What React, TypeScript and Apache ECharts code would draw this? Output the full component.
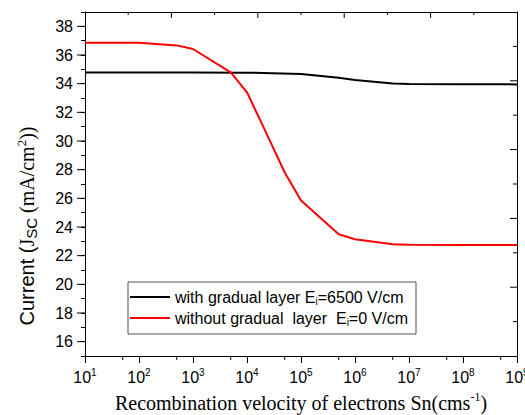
import React, { useEffect, useRef } from "react";
import * as echarts from "echarts";

// Short-circuit current vs. electron recombination velocity
const withGradualSn = [1e1, 1e2, 1e3, 1e4, 1e5, 5e5, 1e6, 5e6, 1e7, 1e8, 1e9];
const withGradualJsc = [34.78, 34.78, 34.78, 34.77, 34.68, 34.42, 34.25, 34.02, 33.98, 33.96, 33.95];

const withoutGradualSn = [1e1, 1e2, 5e2, 1e3, 5e3, 1e4, 2e4, 5e4, 1e5, 5e5, 1e6, 5e6, 1e7, 1e8, 1e9];
const withoutGradualJsc = [36.86, 36.85, 36.67, 36.42, 34.79, 33.4, 31.0, 27.8, 25.85, 23.49, 23.14, 22.8, 22.76, 22.74, 22.74];

const seriesNames = ["with gradual layer", "without gradual layer"];
const legendLabels = [
  "{t|with gradual layer E}{s|i}{t|=6500 V/cm}",
  "{t|without gradual  layer  E}{s|i}{t|=0 V/cm}",
];

// tick helpers: major y ticks (even values) and half-decade x ticks
const yMajorTicks = [16, 18, 20, 22, 24, 26, 28, 30, 32, 34, 36, 38];
const xMinorTicks = [5e1, 5e2, 5e3, 5e4, 5e5, 5e6, 5e7, 5e8];
// ticks of the mirrored top / right frame (0–10 scale, even ones are major)
const frameTicks = [1, 2, 3, 4, 5, 6, 7, 8, 9];

const Y_MIN = 15;
const Y_MAX = 39;
const X_MIN = 1e1;
const X_MAX = 1e9;
const FRAME_MAX = 10;

export default function App() {
  const ref = useRef<HTMLDivElement>(null);

  useEffect(() => {
    if (!ref.current) return;
    const chart = echarts.init(ref.current, undefined, { renderer: "svg" });

    const sans = "Arial, 'Liberation Sans', sans-serif";
    const serif = "'Times New Roman', 'Liberation Serif', serif";

    const yTitle = {
      // y-axis title with subscript and superscript
      type: "text",
      id: "yTitle",
      x: 27,
      y: 226,
      rotation: Math.PI / 2,
      silent: true,
      style: {
        text: "{a|Current (}{j|J}{s|SC}{t| (mA/cm}{p|2}{t|))}",
        align: "center",
        verticalAlign: "middle",
        rich: {
          a: { fontFamily: sans, fontSize: 20, fill: "#000", lineHeight: 24 },
          j: { fontFamily: serif, fontSize: 20, fill: "#000", lineHeight: 24 },
          s: { fontFamily: sans, fontSize: 15, fill: "#000", verticalAlign: "bottom", lineHeight: 14 },
          t: { fontFamily: serif, fontSize: 20, fill: "#000", lineHeight: 24 },
          p: { fontFamily: serif, fontSize: 13, fill: "#000", verticalAlign: "top", lineHeight: 13 },
        },
      },
    };

    chart.setOption({
      animation: false,
      backgroundColor: "#fff",
      grid: {
        left: 85,
        top: 12,
        right: 8,
        bottom: 59,
        containLabel: false,
        outerBoundsMode: "none",
      },
      graphic: [yTitle],
      legend: {
        data: seriesNames,
        orient: "vertical",
        left: 128,
        top: 282,
        padding: [7, 8, 7, 2],
        itemGap: 4,
        itemWidth: 40,
        itemHeight: 2,
        icon: "rect",
        borderColor: "#555",
        borderWidth: 1,
        borderRadius: 0,
        backgroundColor: "#fff",
        formatter: (name: string) => legendLabels[seriesNames.indexOf(name)],
        textStyle: {
          color: "#000",
          rich: {
            t: { fontFamily: sans, fontSize: 16, color: "#000", lineHeight: 18 },
            s: { fontFamily: sans, fontSize: 10, color: "#000", verticalAlign: "bottom", lineHeight: 10 },
          },
        },
      },
      xAxis: [
        {
          type: "log",
          logBase: 10,
          min: X_MIN,
          max: X_MAX,
          splitNumber: 8,
          axisLine: { show: true, lineStyle: { color: "#000", width: 1 } },
          axisTick: { show: true, length: 7, lineStyle: { color: "#000" } },
          splitLine: { show: false },
          axisLabel: {
            margin: 11,
            formatter: (v: number) => `{b|10}{e|${Math.round(Math.log10(v))}}`,
            rich: {
              b: { fontFamily: sans, fontSize: 16, color: "#000", lineHeight: 20 },
              e: { fontFamily: sans, fontSize: 10, color: "#000", verticalAlign: "top", lineHeight: 12 },
            },
          },
          name: "{t|Recombination velocity of electrons Sn(cms}{s|-1}{t|)}",
          nameLocation: "middle",
          nameGap: 35,
          nameTextStyle: {
            rich: {
              t: { fontFamily: serif, fontSize: 20, color: "#000", lineHeight: 24 },
              s: { fontFamily: serif, fontSize: 12, color: "#000", verticalAlign: "top", lineHeight: 12 },
            },
          },
        },
        {
          type: "value",
          position: "top",
          min: 0,
          max: FRAME_MAX,
          axisLine: { show: true, onZero: false, lineStyle: { color: "#000", width: 1 } },
          axisTick: { show: false },
          axisLabel: { show: false },
          splitLine: { show: false },
        },
      ],
      yAxis: [
        {
          type: "value",
          min: Y_MIN,
          max: Y_MAX,
          interval: 1,
          axisLine: { show: true, lineStyle: { color: "#000", width: 1 } },
          axisTick: { show: true, length: 4, lineStyle: { color: "#000" } },
          splitLine: { show: false },
          axisLabel: {
            margin: 12,
            fontFamily: sans,
            fontSize: 16,
            color: "#000",
            formatter: (v: number) => (v % 2 === 0 ? String(v) : ""),
          },
        },
        {
          type: "value",
          position: "right",
          min: 0,
          max: FRAME_MAX,
          axisLine: { show: true, onZero: false, lineStyle: { color: "#000", width: 1 } },
          axisTick: { show: false },
          axisLabel: { show: false },
          splitLine: { show: false },
        },
      ],
      series: [
        {
          name: seriesNames[0],
          type: "line",
          xAxisIndex: 0,
          yAxisIndex: 0,
          symbol: "none",
          lineStyle: { color: "#000", width: 2 },
          itemStyle: { color: "#000" },
          data: withGradualSn.map((x, i) => [x, withGradualJsc[i]]),
        },
        {
          name: seriesNames[1],
          type: "line",
          xAxisIndex: 0,
          yAxisIndex: 0,
          symbol: "none",
          lineStyle: { color: "#ff0000", width: 2 },
          itemStyle: { color: "#ff0000" },
          data: withoutGradualSn.map((x, i) => [x, withoutGradualJsc[i]]),
        },
      ],
    });

    // extra tick marks, placed through the chart's own axis scales
    const px = (x: number, y: number) =>
      chart.convertToPixel({ xAxisIndex: 0, yAxisIndex: 0 }, [x, y]) as number[];
    const tick = (x1: number, y1: number, x2: number, y2: number) => ({
      type: "line",
      silent: true,
      z: 50,
      shape: { x1, y1, x2, y2 },
      style: { stroke: "#000", lineWidth: 1 },
    });

    const [left, bottom] = px(X_MIN, Y_MIN);
    const [right, top] = px(X_MAX, Y_MAX);
    const marks: any[] = [];

    // longer outward ticks at the labelled (even) current values
    yMajorTicks.forEach((v) => {
      const p = px(X_MIN, v);
      marks.push(tick(p[0] - 8, p[1], p[0], p[1]));
    });
    // short outward ticks at 5×10^n on the velocity axis
    xMinorTicks.forEach((v) => {
      const p = px(v, Y_MIN);
      marks.push(tick(p[0], p[1], p[0], p[1] + 4));
    });
    // inward ticks along the top and right frame
    frameTicks.forEach((v) => {
      const f = v / FRAME_MAX;
      const major = v % 2 === 0;
      const tx = left + (right - left) * f;
      const ry = bottom - (bottom - top) * f;
      marks.push(tick(tx, top, tx, top + (major ? 6 : 3)));
      marks.push(tick(right, ry, right - (major ? 7 : 4), ry));
    });

    chart.setOption({ graphic: [yTitle, ...marks] });

    return () => chart.dispose();
  }, []);

  return <div ref={ref} style={{ width: 525, height: 415, position: "absolute", left: 0, top: 0 }} />;
}
